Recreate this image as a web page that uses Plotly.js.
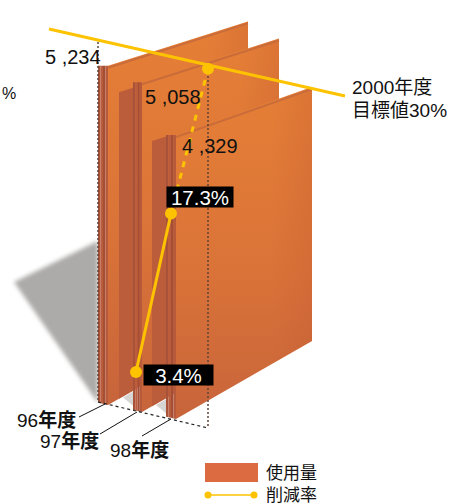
<!DOCTYPE html>
<html>
<head>
<meta charset="utf-8">
<script src="https://cdn.plot.ly/plotly-3.0.1.min.js"></script>
<style>html,body{margin:0;padding:0;background:#fff;overflow:hidden}#chart{width:463px;height:504px}</style>
</head>
<body>
<div id="chart"></div>
<script>
// Paper use by fiscal year and the reduction rate against the 2000 target
const years = ['96', '97', '98'];
const usage = [5234, 5058, 4329];
const rate = [3.4, 17.3];
const targetRate = 30;
const targetLabel = ['2000年度', '目標値30%'];
const legendUsage = '使用量';
const legendRate = '削減率';

// Pseudo-3D projection of the sheets
const W = 463, H = 504;
const K = 0.0652;                     // pixels per usage unit
const R0 = 410.8, RK = 11.4;          // rate axis: zero position and pixels per percent
const sheetLeft = [98, 133, 166];
const sideWidth = [10, 9, 10];
const faceWidth = [140, 137, 136];
const sheetBase = [405, 412, 419];
const depth = [0.994, 1.0, 1.006];
const shadeDrop = [30, 62];
const rateX = [136, 171, 208];
const BASE_SLOPE = 0.574, FAR_RATIO = 0.894, SIDE_SLOPE = 0.236;

const u = px => (H - px) / K;         // vertical pixel offset on the usage axis
const r = px => (R0 - px) / RK;       // vertical pixel offset on the rate axis

const traces = [];
const poly = (xs, ys, color, extra) => traces.push(Object.assign({
  x: [...xs, xs[0]], y: [...ys, ys[0]].map(u), mode: 'lines', line: {width: 0},
  fill: 'toself', fillcolor: color, hoverinfo: 'skip', showlegend: false
}, extra || {}));
const path = (xs, ys, color, width, dash) => traces.push({
  x: xs, y: ys.map(u), mode: 'lines', line: {color, width, dash: dash || 'solid'},
  hoverinfo: 'skip', showlegend: false
});

// Cast shadow on the floor
poly([14, 98, 98], [282, 241, 403], '#adaba9');

usage.forEach((v, i) => {
  const x0 = sheetLeft[i], sw = sideWidth[i], xf = x0 + sw, w = faceWidth[i], xe = xf + w;
  const b0 = sheetBase[i], b1 = b0 - BASE_SLOPE * w;
  const h0 = v * K * depth[i], h1 = h0 * FAR_RATIO;
  const t0 = b0 - h0, t1 = b1 - h1;
  // main face: vertical shading plus a darkening band toward the far edge
  poly([xf, xe, xe, xf], [t0, t1, b1, b0], '#e07a35', {
    fillgradient: {type: 'vertical', colorscale: [[0, '#c8643b'], [0.45, '#da7338'], [1, '#e57f36']]}
  });
  poly([xf, xe, xe, xf], [t0, t1, b1, b0], 'rgba(0,0,0,0)', {
    fillgradient: {type: 'horizontal', colorscale: [[0, 'rgba(190,85,50,0)'], [0.7, 'rgba(190,85,50,0)'], [1, 'rgba(190,85,50,0.25)']]}
  });
  // darker band just below the upper edge
  path([xf, xe], [t0 + 2, t1 + 2], '#c96c3a', 2);
  // stacked sheet edges
  const stripes = ['#a9523a', '#bb5c3d', '#a54e36', '#b75a3b'];
  stripes.forEach((c, s) => {
    const a = x0 + sw * s / 4, e = x0 + sw * (s + 1) / 4;
    poly([a, e, e, a], [t0, t0, b0 - (xf - e) * SIDE_SLOPE, b0 - (xf - a) * SIDE_SLOPE], c);
  });
  // shade thrown by the next sheet and the gap at its foot
  if (i < usage.length - 1) {
    const nx = sheetLeft[i + 1], sx = nx - 14;
    const atTop = x => t0 + (t1 - t0) * (x - xf) / w + shadeDrop[i];
    const atBot = x => b0 - BASE_SLOPE * (x - xf);
    poly([sx, nx, nx, sx], [atTop(sx), atTop(nx), atBot(nx), atBot(sx)], '#bb5c3b');
    poly([nx - 10, nx, nx], [atBot(nx - 10) + 1, atBot(nx) + 1, atBot(nx) + 15], '#d6d5d3');
  }
});

// Construction lines of the projection
const dotDark = '#5f4438';
path([98, 98], [42, 402], dotDark, 1.5, '2px,2px');
path([208, 208], [72, 428], dotDark, 1.5, '2px,2px');
path([98, 208], [402, 428], '#222', 1.2, '3px,3px');

// Leader lines to the year labels
const leaders = [[79, 417, 105, 404], [100, 434, 137, 412], [142, 436, 171, 419]];
leaders.forEach(l => path([l[0], l[2]], [l[1], l[3]], '#111', 1));

// Reduction rate on the secondary axis
const YEL = '#fdc300';
const line2 = (x, y, extra) => traces.push(Object.assign({
  x, y, yaxis: 'y2', mode: 'lines', line: {color: YEL, width: 3},
  hoverinfo: 'skip', showlegend: false
}, extra || {}));
line2([49, 345], [r(29), r(96)]);
line2([rateX[1], rateX[2]], [rate[1], targetRate], {line: {color: YEL, width: 3, dash: '6px,6px'}});
line2([rateX[0], rateX[1]], rate);
line2(rateX, [rate[0], rate[1], targetRate], {mode: 'markers', marker: {color: YEL, size: 12}});

// Legend entry for the rate line
traces.push({x: [208, 254], y: [u(495), u(495)], mode: 'lines+markers',
  line: {color: YEL, width: 1.5}, marker: {color: YEL, size: 7},
  hoverinfo: 'skip', showlegend: false});

const FONT = '"Liberation Sans","Noto Sans CJK JP",sans-serif';
const note = (text, px, py, size, extra) => Object.assign({
  text, xref: 'paper', yref: 'paper', x: px / W, y: 1 - py / H, showarrow: false,
  xanchor: 'left', yanchor: 'middle', align: 'left',
  font: {family: FONT, size, color: '#111'}
}, extra || {});

const fmt = v => { const s = String(v); return s.slice(0, -3) + ' ,' + s.slice(-3); };
const valuePos = [[43, 57], [143, 97], [180, 146]];
const yearPos = [[15, 420], [38, 441], [108, 450]];

const annotations = [
  ...usage.map((v, i) => note(fmt(v), valuePos[i][0], valuePos[i][1], 20)),
  ...years.map((y, i) => note(y + '<b>年度</b>', yearPos[i][0], yearPos[i][1], 19)),
  note('%', 0, 93, 16),
  note(targetLabel[0], 350, 87, 19),
  note(targetLabel[1], 350, 110, 19),
  note(rate[1].toFixed(1) + '%', 166, 197.5, 20.5, {font: {family: FONT, size: 20.5, color: '#fff'}, bgcolor: '#000', width: 66, height: 20, align: 'center', borderpad: 0, xanchor: 'left'}),
  note(rate[0].toFixed(1) + '%', 143, 375, 20.5, {font: {family: FONT, size: 20.5, color: '#fff'}, bgcolor: '#000', width: 69, height: 20, align: 'center', borderpad: 0, xanchor: 'left'}),
  note(legendUsage, 264, 473, 17),
  note(legendRate, 264, 495, 17)
];

const layout = {
  width: W, height: H, margin: {l: 0, r: 0, t: 0, b: 0},
  paper_bgcolor: '#fff', plot_bgcolor: '#fff',
  xaxis: {range: [0, W], visible: false, fixedrange: true},
  yaxis: {range: [0, H / K], visible: false, fixedrange: true},
  yaxis2: {range: [(R0 - H) / RK, R0 / RK], overlaying: 'y', visible: false, fixedrange: true},
  shapes: [{type: 'rect', xref: 'paper', yref: 'paper', x0: 205 / W, x1: 258 / W,
    y0: 1 - 482 / H, y1: 1 - 463 / H, fillcolor: '#dc6b42', line: {width: 0}}],
  annotations, showlegend: false
};

Plotly.newPlot('chart', traces, layout, {staticPlot: true, displayModeBar: false}).then(() => {
  // Soft edge on the floor shadow
  const first = document.querySelector('.scatterlayer .trace');
  if (first) first.style.filter = 'blur(2px)';
});
</script>
</body>
</html>
